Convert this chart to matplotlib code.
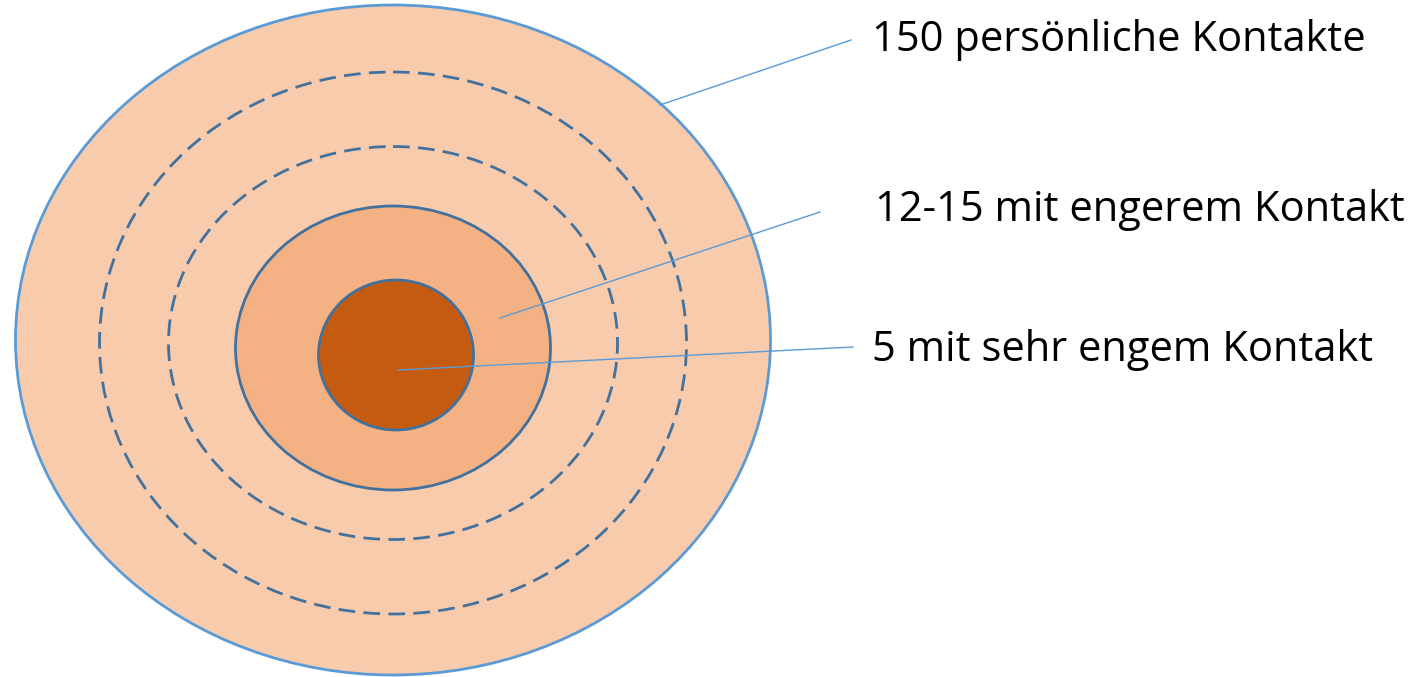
import matplotlib
matplotlib.use('Agg')
import matplotlib.pyplot as plt
from matplotlib.patches import Ellipse

# Kreise (Bildkoordinaten in Pixel: Mitte x, Mitte y, Breite, Höhe)
ring_centers = [(393, 340), (393, 343), (393, 343), (393, 348), (396, 355)]
ring_widths = [755, 587, 449, 315, 155]
ring_heights = [670, 542, 393, 284, 150]
ring_fills = ['#F8CBAD', 'none', 'none', '#F4B183', '#C55A11']
ring_edges = ['#5B9BD5', '#41719C', '#41719C', '#41719C', '#41719C']
ring_styles = ['-', (0, (6, 3)), (0, (6, 3)), '-', '-']

# Beschriftungen
labels = ['150 persönliche Kontakte', '12-15 mit engerem Kontakt', '5 mit sehr engem Kontakt']
label_pos = [(872, 40), (875, 210), (872, 350)]
leader_start = [(660, 105), (500, 318), (398, 370)]
leader_end = [(851, 40), (820, 212), (853, 347)]

fig = plt.figure(figsize=(14.24, 6.77), dpi=100)
ax = fig.add_axes([0, 0, 1, 1])
ax.set_xlim(0, 1424)
ax.set_ylim(677, 0)
ax.axis('off')

for c, w, h, fc, ec, ls in zip(ring_centers, ring_widths, ring_heights, ring_fills, ring_edges, ring_styles):
    ax.add_patch(Ellipse(c, w, h, facecolor=fc, edgecolor=ec, linestyle=ls, linewidth=2))

for (x0, y0), (x1, y1) in zip(leader_start, leader_end):
    ax.plot([x0, x1], [y0, y1], color='#5B9BD5', linewidth=1)

for txt, (x, y) in zip(labels, label_pos):
    ax.text(x, y, txt, fontsize=30, family=['Open Sans', 'DejaVu Sans'], va='center', ha='left', color='black')

fig.savefig('out.png', dpi=100)
